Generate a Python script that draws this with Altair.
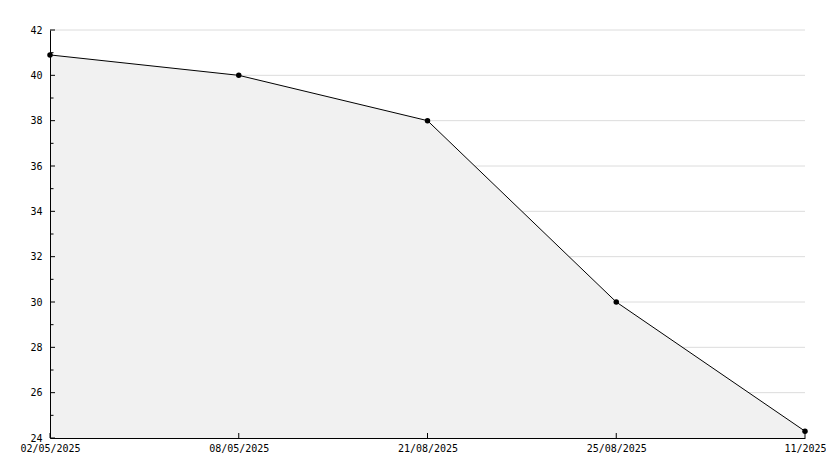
import altair as alt
import pandas as pd

dates = ["02/05/2025", "08/05/2025", "21/08/2025", "25/08/2025", "11/2025"]
values = [40.9, 40.0, 38.0, 30.0, 24.3]
major_ticks = [24, 26, 28, 30, 32, 34, 36, 38, 40, 42]
minor_ticks = [25, 27, 29, 31, 33, 35, 37, 39, 41]

df = pd.DataFrame({"date": dates, "value": values})
df_major = pd.DataFrame({"value": major_ticks})
df_minor = pd.DataFrame({"value": minor_ticks})

W, H = 755, 408
FONT = "DejaVu Sans Mono"

yscale = alt.Scale(domain=[24, 42], nice=False, zero=False)
xscale = alt.Scale(type="point", padding=0)

x_axis = alt.Axis(labelAngle=0, ticks=False, domain=True, domainColor="black",
                  domainWidth=1, grid=False, labelPadding=5, labelFont=FONT,
                  labelFontSize=10, labelColor="black", labelOverlap=False, zindex=1)
y_axis = alt.Axis(values=major_ticks, ticks=False, domain=True, domainColor="black",
                  domainWidth=1, grid=False, labelPadding=8, labelFont=FONT,
                  labelFontSize=10, labelColor="black", zindex=1)

x_enc = alt.X("date:N", sort=dates, scale=xscale, title=None, axis=x_axis)
y_enc = alt.Y("value:Q", scale=yscale, title=None, axis=y_axis)

base = alt.Chart(df)
grid = alt.Chart(df_major).mark_rule(color="#dcdcdc", strokeWidth=1).encode(
    y=y_enc, x=alt.value(0), x2=alt.value(W))
area = base.mark_area(color="#f1f1f1", opacity=1).encode(x=x_enc, y=y_enc, y2=alt.datum(24))
line = base.mark_line(color="black", strokeWidth=1).encode(x=x_enc, y=y_enc)
pts = base.mark_point(color="black", filled=True, size=30, opacity=1, shape="circle").encode(
    x=x_enc, y=y_enc)

ymaj = alt.Chart(df_major).mark_rule(color="black", strokeWidth=1).encode(
    y=y_enc, x=alt.value(0), x2=alt.value(5))
ymin = alt.Chart(df_minor).mark_rule(color="black", strokeWidth=1).encode(
    y=y_enc, x=alt.value(0), x2=alt.value(3.5))
xt = base.mark_rule(color="black", strokeWidth=1).encode(
    x=x_enc, y=alt.value(H - 5), y2=alt.value(H))

chart = alt.layer(grid, area, line, ymaj, ymin, xt, pts).properties(
    width=W, height=H,
    background="white",
    autosize=alt.AutoSizeParams(type="none"),
    padding={"left": 42, "top": 22, "right": 21, "bottom": 20},
).configure_view(stroke=None)

chart.save("out.html", embed_options={"renderer": "svg", "actions": False})
